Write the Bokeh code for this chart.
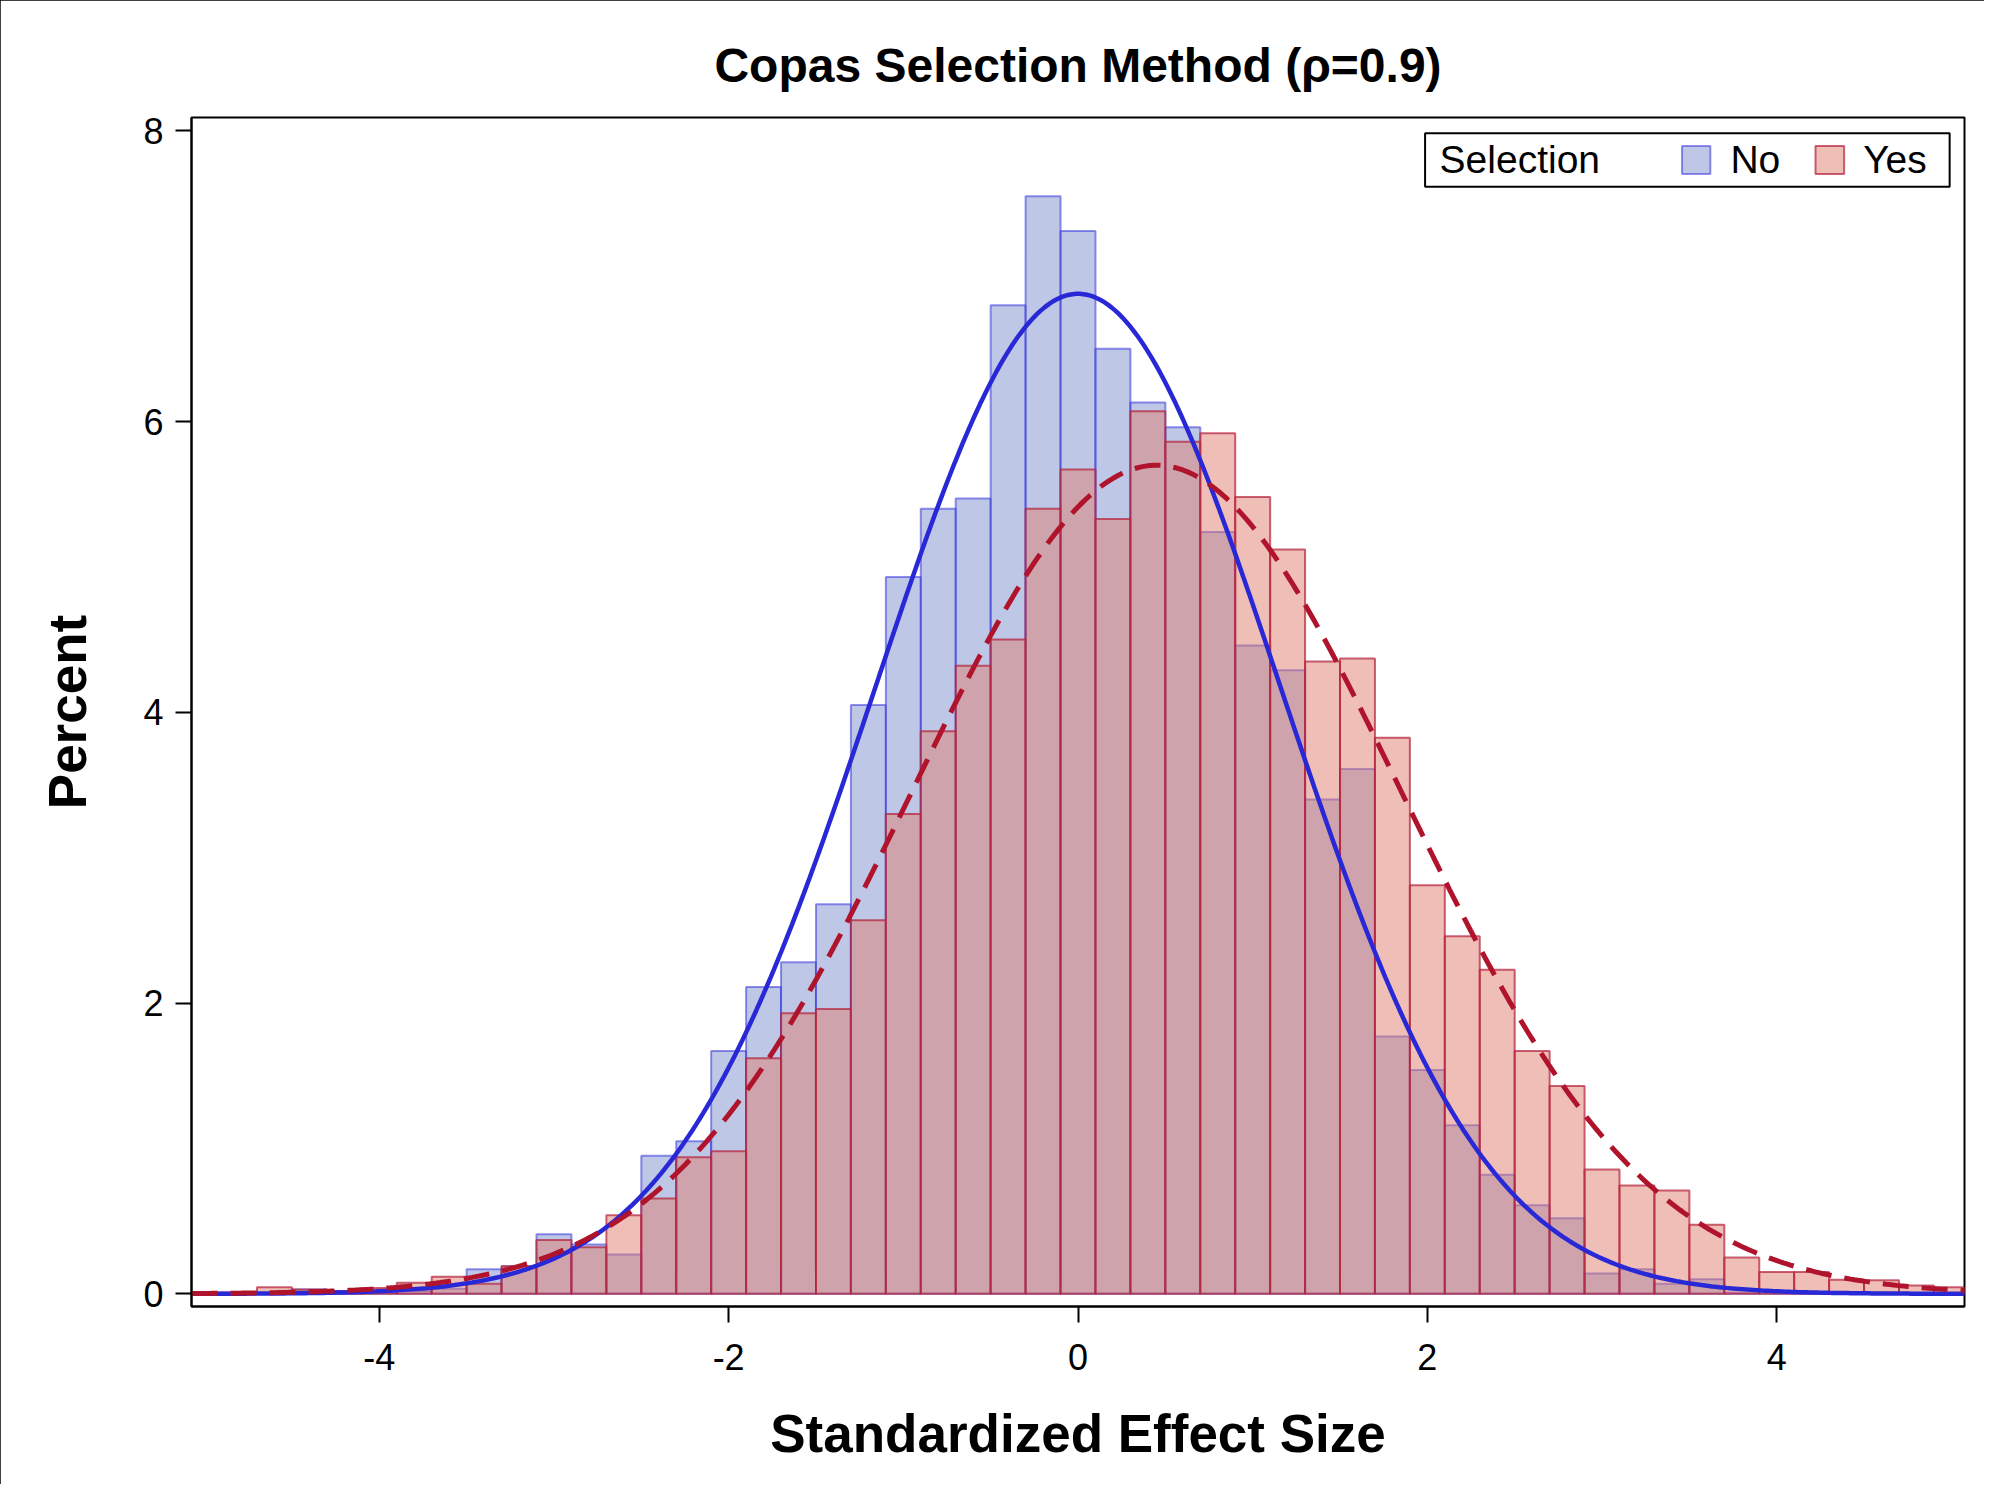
import numpy as np
from bokeh.plotting import figure
from bokeh.models import Range1d, FixedTicker, BoxAnnotation, Label
from bokeh.embed import file_html
from bokeh.resources import INLINE

# ---------------- data ----------------
bin_centers = [-5.0, -4.8, -4.6, -4.4, -4.2, -4.0, -3.8, -3.6, -3.4, -3.2,
               -3.0, -2.8, -2.6, -2.4, -2.2, -2.0, -1.8, -1.6, -1.4, -1.2,
               -1.0, -0.8, -0.6, -0.4, -0.2, 0.0, 0.2, 0.4, 0.6, 0.8,
               1.0, 1.2, 1.4, 1.6, 1.8, 2.0, 2.2, 2.4, 2.6, 2.8,
               3.0, 3.2, 3.4, 3.6, 3.8, 4.0, 4.2, 4.4, 4.6, 4.8, 5.0]

pct_no = [0.0, 0.0, 0.0, 0.03, 0.02, 0.02, 0.02, 0.035, 0.17, 0.19,
          0.41, 0.34, 0.27, 0.95, 1.05, 1.67, 2.11, 2.28, 2.68, 4.05,
          4.93, 5.40, 5.47, 6.80, 7.55, 7.31, 6.50, 6.13, 5.96, 5.24,
          4.46, 4.29, 3.40, 3.61, 1.77, 1.54, 1.16, 0.82, 0.61, 0.52,
          0.14, 0.17, 0.07, 0.10, 0.01, 0.0, 0.0, 0.0, 0.0, 0.0, 0.0]

pct_yes = [0.01, 0.01, 0.046, 0.03, 0.02, 0.04, 0.076, 0.117, 0.07, 0.19,
           0.37, 0.32, 0.54, 0.655, 0.94, 0.98, 1.62, 1.93, 1.96, 2.57,
           3.30, 3.87, 4.32, 4.50, 5.40, 5.67, 5.33, 6.07, 5.86, 5.92,
           5.48, 5.12, 4.35, 4.37, 3.825, 2.81, 2.46, 2.23, 1.67, 1.43,
           0.856, 0.745, 0.71, 0.475, 0.25, 0.15, 0.15, 0.097, 0.093, 0.058, 0.046]

bin_width = 0.2
x_ticks = [-4, -2, 0, 2, 4]
y_ticks = [0, 2, 4, 6, 8]

# fitted normal curves (mean, sd)
no_mean, no_sd = 0.0, 1.16
yes_mean, yes_sd = 0.45, 1.40

groups = ["No", "Yes"]
# ------------------------------------------------------------

BLUE_FILL = "#7D91CD"
RED_FILL = "#DF7D6F"
BLUE_EDGE = "#3535DD"
RED_EDGE = "#B3203A"
BLUE_LINE = "#2828D7"
RED_LINE = "#B0142D"
FONT = "Liberation Sans"

XMIN, XMAX = -5.075, 5.075
YMIN, YMAX = -0.087, 8.091

p = figure(width=1984, height=1484, output_backend="svg", toolbar_location=None,
           x_range=Range1d(XMIN, XMAX), y_range=Range1d(YMIN, YMAX),
           min_border_left=191, min_border_right=20,
           min_border_top=117, min_border_bottom=178,
           title="Copas Selection Method (ρ=0.9)")
p.styles = {"outline": "2px solid black", "outline-offset": "-2px"}

p.title.align = "center"
p.title.text_font = FONT
p.title.text_font_size = "48px"
p.title.text_font_style = "bold"
p.title.text_color = "black"
p.title.standoff = 51

p.xgrid.visible = False
p.ygrid.visible = False
p.outline_line_color = "black"
p.outline_line_width = 2
p.outline_line_alpha = 1.0

for ax in (p.xaxis[0], p.yaxis[0]):
    ax.axis_line_color = "black"
    ax.axis_line_width = 2
    ax.major_tick_line_color = "black"
    ax.major_tick_line_width = 2
    ax.major_tick_out = 16
    ax.major_tick_in = 0
    ax.minor_tick_line_color = None
    ax.major_label_text_font = FONT
    ax.major_label_text_font_size = "36px"
    ax.major_label_text_color = "black"
    ax.axis_label_text_font = FONT
    ax.axis_label_text_font_size = "53px"
    ax.axis_label_text_font_style = "bold"
    ax.axis_label_text_color = "black"

p.xaxis.ticker = FixedTicker(ticks=x_ticks)
p.yaxis.ticker = FixedTicker(ticks=y_ticks)
p.xaxis.major_label_overrides = {t: str(t) for t in x_ticks}
p.yaxis.major_label_overrides = {t: str(t) for t in y_ticks}
p.xaxis.axis_label = "Standardized Effect Size"
p.yaxis.axis_label = "Percent"
p.xaxis.major_label_standoff = 21
p.yaxis.major_label_standoff = 12
p.xaxis.axis_label_standoff = 31
p.yaxis.axis_label_standoff = 43

# histograms
p.vbar(x=bin_centers, width=bin_width, top=pct_no, bottom=0,
       fill_color=BLUE_FILL, fill_alpha=0.5,
       line_color=BLUE_EDGE, line_alpha=0.55, line_width=2)
p.vbar(x=bin_centers, width=bin_width, top=pct_yes, bottom=0,
       fill_color=RED_FILL, fill_alpha=0.5,
       line_color=RED_EDGE, line_alpha=0.7, line_width=2)

# fitted normal density curves, scaled to percent per bin
xs = np.linspace(XMIN, XMAX, 500)
def normal_pct(x, m, s):
    return 100.0 * bin_width * np.exp(-0.5 * ((x - m) / s) ** 2) / (s * np.sqrt(2 * np.pi))

p.line(xs, normal_pct(xs, no_mean, no_sd), line_color=BLUE_LINE, line_width=4.5)
p.line(xs, normal_pct(xs, yes_mean, yes_sd), line_color=RED_LINE, line_width=5,
       line_dash="26 13")

# legend (drawn manually to place the title inline)
p.add_layout(BoxAnnotation(left=1.987, right=4.99, top=7.983, bottom=7.615,
                           fill_color="white", fill_alpha=1.0,
                           line_color="black", line_width=2, line_alpha=1.0))
p.add_layout(BoxAnnotation(left=3.458, right=3.62, top=7.895, bottom=7.702,
                           fill_color=BLUE_FILL, fill_alpha=0.5,
                           line_color=BLUE_EDGE, line_alpha=0.55, line_width=2))
p.add_layout(BoxAnnotation(left=4.222, right=4.386, top=7.895, bottom=7.702,
                           fill_color=RED_FILL, fill_alpha=0.5,
                           line_color=RED_EDGE, line_alpha=0.7, line_width=2))
for txt, xpos in (("Selection", 2.07), (groups[0], 3.735), (groups[1], 4.495)):
    p.add_layout(Label(x=xpos, y=7.799, text=txt, text_baseline="middle",
                       text_align="left", text_font=FONT, text_font_size="39px",
                       text_color="black"))

open("out.html", "w").write(file_html(p, INLINE))
